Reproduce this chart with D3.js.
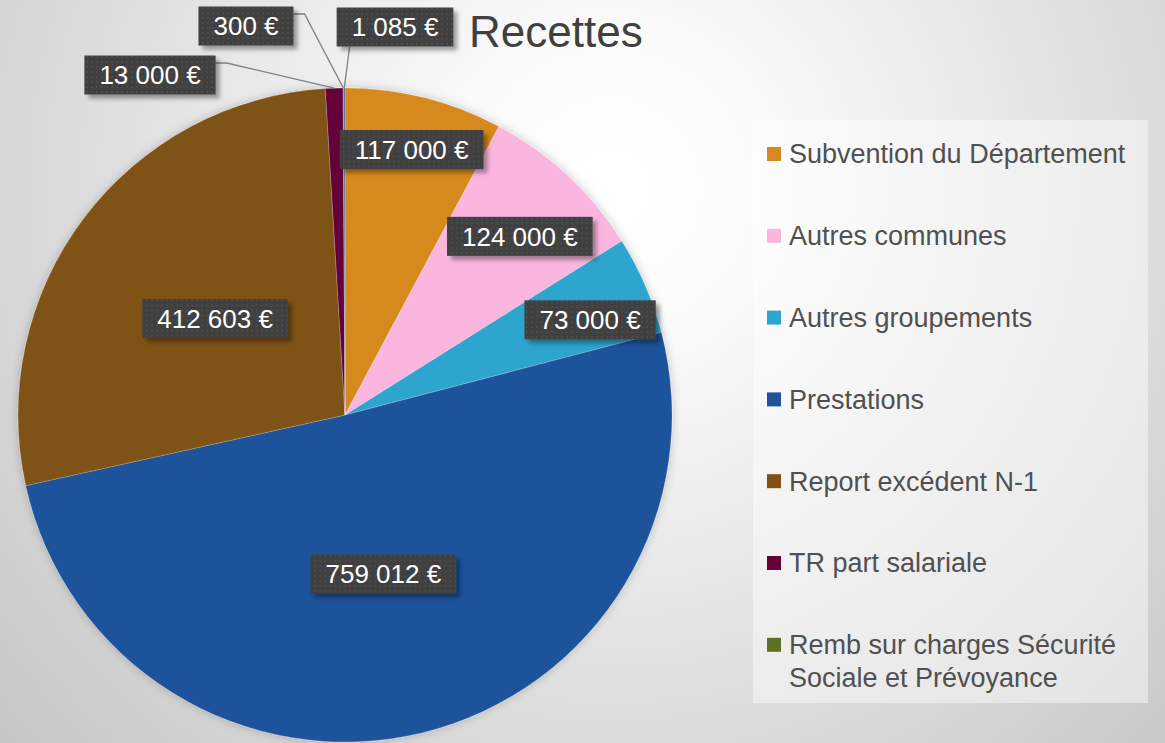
<!DOCTYPE html>
<html>
<head>
<meta charset="utf-8">
<script src="https://cdn.jsdelivr.net/npm/d3@7"></script>
<style>
  html, body { margin: 0; padding: 0; background: #fff; }
  svg { display: block; }
  text { font-family: "Liberation Sans", Arial, sans-serif; }
</style>
</head>
<body>
<svg id="chart" width="1165" height="743"></svg>
<script>
// data
const categories = [
  'Subvention du Département',
  'Autres communes',
  'Autres groupements',
  'Prestations',
  'Report excédent N-1',
  'TR part salariale',
  'Remb sur charges Sécurité Sociale et Prévoyance',
  'Autres produits'
];
const values = [117000, 124000, 73000, 759012, 412603, 13000, 300, 1085];
const colors = ['#d6891f', '#fbb6e0', '#2ea5cf', '#1f539b', '#7f5213', '#650039', '#5b7320', '#3f66a3'];

// inside labels: radius fraction + small nudge (best-fit placement)
const label_radius = [0.84, 0.78, 0.81, 0.5, 0.49];
const label_nudge = [[0, 1], [1, 8], [2, 10], [0, 0], [-2, 0]];

// outside labels for the thin slices: offset of box centre from pie centre
const outside_labels = {
  5: {dx: -195, dy: -340, side: 'right'},
  6: {dx: -99, dy: -389, side: 'right'},
  7: {dx: 50, dy: -388, side: 'bottom'}
};

// the legend box only has room for the first seven entries
const legend_lines = [
  ['Subvention du Département'],
  ['Autres communes'],
  ['Autres groupements'],
  ['Prestations'],
  ['Report excédent N-1'],
  ['TR part salariale'],
  ['Remb sur charges Sécurité', 'Sociale et Prévoyance']
];

const W = 1165, H = 743;
const cx = 345, cy = 415, R = 327;

const svg = d3.select('#chart');
const defs = svg.append('defs');

// background gradient
let bg = defs.append('radialGradient').attr('id', 'bg')
  .attr('gradientUnits', 'userSpaceOnUse')
  .attr('cx', 610).attr('cy', 190).attr('r', 820);
bg.append('stop').attr('offset', 0).attr('stop-color', '#ffffff');
bg.append('stop').attr('offset', 0.18).attr('stop-color', '#fbfbfb');
bg.append('stop').attr('offset', 1).attr('stop-color', '#c6c6c6');

// dotted texture of the label boxes
let pat = defs.append('pattern').attr('id', 'dots')
  .attr('patternUnits', 'userSpaceOnUse').attr('width', 5).attr('height', 5);
pat.append('rect').attr('width', 5).attr('height', 5).attr('fill', '#3f3f3f');
pat.append('rect').attr('x', 1).attr('y', 1).attr('width', 2).attr('height', 2).attr('fill', '#4b4b4b');

let sh = defs.append('filter').attr('id', 'boxshadow')
  .attr('x', '-20%').attr('y', '-30%').attr('width', '150%').attr('height', '180%');
sh.append('feDropShadow').attr('dx', 4).attr('dy', 4).attr('stdDeviation', 2)
  .attr('flood-color', '#000').attr('flood-opacity', 0.35);

let psh = defs.append('filter').attr('id', 'pieshadow')
  .attr('x', '-10%').attr('y', '-10%').attr('width', '120%').attr('height', '120%');
psh.append('feDropShadow').attr('dx', 0).attr('dy', 0).attr('stdDeviation', 5)
  .attr('flood-color', '#000').attr('flood-opacity', 0.22);

svg.append('rect').attr('width', W).attr('height', H).attr('fill', 'url(#bg)');

// pie
const pie = d3.pie().sort(null).value(d => d)(values);
const arc = d3.arc().innerRadius(0).outerRadius(R);

let g = svg.append('g').attr('transform', 'translate(' + cx + ',' + cy + ')');
g.append('g').attr('filter', 'url(#pieshadow)')
  .selectAll('path').data(pie).join('path')
  .attr('d', arc)
  .attr('fill', (d, i) => colors[i])
  .attr('stroke', 'rgba(255,255,255,0.35)')
  .attr('stroke-width', 0.6);

let leaders = g.append('g');

const fmt = v => d3.format(',')(v).replace(/,/g, ' ') + ' €';
const edge_arc = d3.arc().innerRadius(R).outerRadius(R);

const font_size = 26, pad = 15, box_h = 39;

pie.forEach(function(d, i) {
  let pos, ol = outside_labels[i];
  if (ol) {
    pos = [ol.dx, ol.dy];
  } else {
    let r = R * label_radius[i];
    let c = d3.arc().innerRadius(r).outerRadius(r).centroid(d);
    pos = [c[0] + label_nudge[i][0], c[1] + label_nudge[i][1]];
  }
  let lg = g.append('g').attr('transform', 'translate(' + pos[0] + ',' + pos[1] + ')');
  let t = lg.append('text')
    .attr('text-anchor', 'middle')
    .attr('dy', '0.36em')
    .attr('fill', '#ffffff')
    .attr('font-size', font_size)
    .text(fmt(values[i]));
  let bw = t.node().getComputedTextLength() + pad * 2;
  lg.insert('rect', 'text')
    .attr('x', -bw / 2).attr('y', -box_h / 2)
    .attr('width', bw).attr('height', box_h)
    .attr('fill', 'url(#dots)')
    .attr('filter', 'url(#boxshadow)');

  if (ol) {
    let p = edge_arc.centroid(d);
    let pts;
    if (ol.side === 'right') {
      let y0 = pos[1] - 12;
      pts = [[pos[0] + bw / 2, y0], [pos[0] + bw / 2 + 11, y0], p];
    } else {
      pts = [[pos[0] - bw / 2 + 13, pos[1] + box_h / 2], p];
    }
    leaders.append('path')
      .attr('d', d3.line()(pts))
      .attr('fill', 'none')
      .attr('stroke', '#808080')
      .attr('stroke-width', 1.3);
  }
});

// title
svg.append('text')
  .attr('x', 469).attr('y', 47)
  .attr('font-size', 44)
  .attr('fill', '#404040')
  .text('Recettes');

// legend
svg.append('rect')
  .attr('x', 753).attr('y', 120).attr('width', 395).attr('height', 583)
  .attr('fill', 'rgba(255,255,255,0.45)');

let legend = svg.append('g');
let ly = 154;
legend_lines.forEach(function(lines, i) {
  let item = legend.append('g').attr('transform', 'translate(767,' + ly + ')');
  item.append('rect').attr('x', 0).attr('y', -7).attr('width', 14).attr('height', 14)
    .attr('fill', colors[i]);
  lines.forEach(function(line, k) {
    item.append('text')
      .attr('x', 22).attr('y', k * 33)
      .attr('dy', '0.35em')
      .attr('font-size', 27)
      .attr('fill', '#505050')
      .text(line);
  });
  ly += 81.8 + (lines.length - 1) * 33;
});
</script>
</body>
</html>
